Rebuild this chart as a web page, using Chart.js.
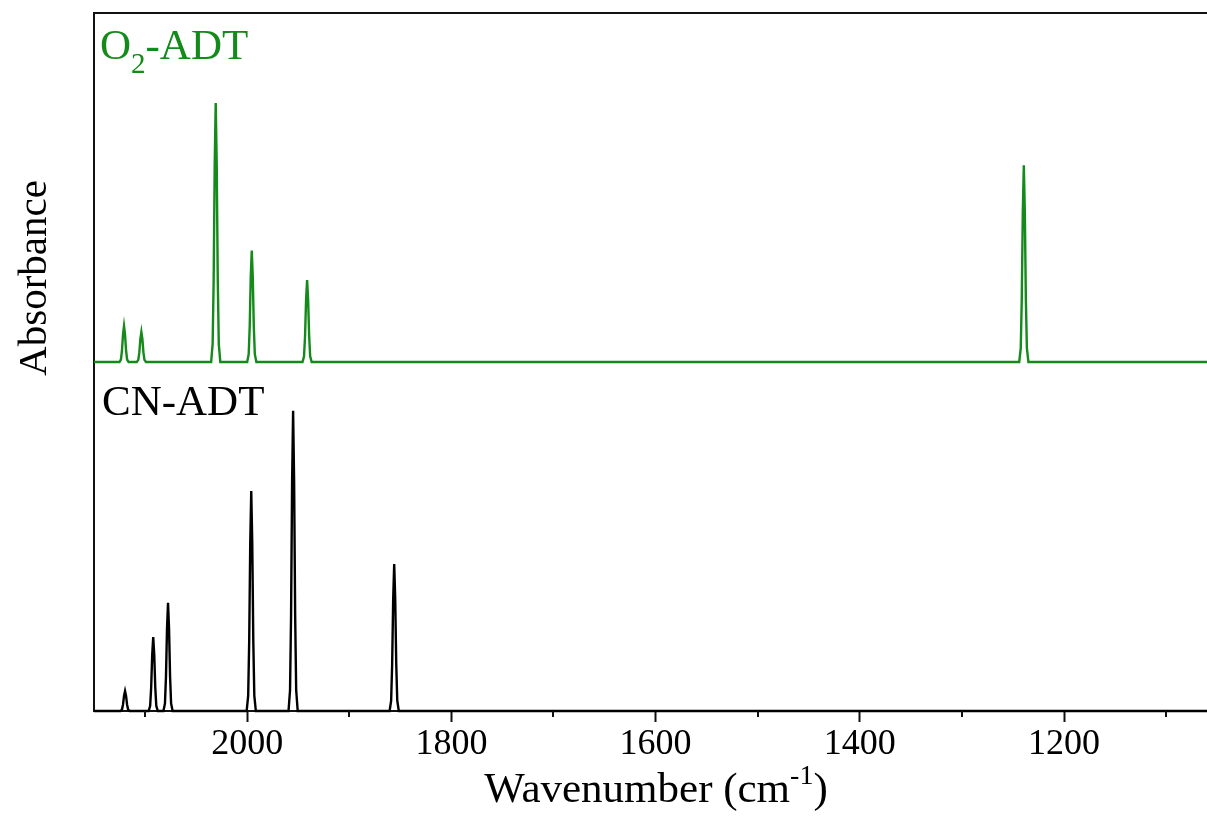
<!DOCTYPE html>
<html>
<head>
<meta charset="utf-8">
<script src="https://cdn.jsdelivr.net/npm/chart.js@4/dist/chart.umd.min.js"></script>
<style>
  html, body { margin: 0; padding: 0; background: #fff; }
  #wrap { width: 1207px; height: 828px; }
</style>
</head>
<body>
<div id="wrap"><canvas id="c" width="1207" height="828"></canvas></div>
<script>
// ---- data ----
const xRange = [2150, 1060];                      // wavenumber axis, reversed
const majorTicks = [2000, 1800, 1600, 1400, 1200];
const minorTicks = [2100, 1900, 1700, 1500, 1300, 1100];

const o2Peaks   = [2120.6, 2103.6, 2030.8, 1995.5, 1941.3, 1239.4];   // cm^-1
const o2Heights = [0.103, 0.086, 0.742, 0.319, 0.235, 0.564];         // relative absorbance

const cnPeaks   = [2119.6, 2092.0, 2077.5, 1996.0, 1955.0, 1856.0];
const cnHeights = [0.057, 0.212, 0.310, 0.630, 0.860, 0.421];

const labelO2 = ['O', '2', '-ADT'];
const labelCN = 'CN-ADT';
const yTitle = 'Absorbance';
const xTitle = ['Wavenumber (cm', '-1', ')'];

// narrow band shape used to draw each stick as a peak
const bandOffsets = [-4.5, -3, -2, -1, 0, 1, 2, 3, 4.5];
const bandShape   = [0, 0.07, 0.32, 0.76, 1, 0.76, 0.32, 0.07, 0];

function buildSpectrum(pos, hts) {
  const pts = [{x: xRange[1], y: 0}];
  const order = pos.map((p, i) => i).sort((a, b) => pos[a] - pos[b]);
  for (const i of order) {
    bandOffsets.forEach((o, k) => pts.push({x: pos[i] + o, y: hts[i] * bandShape[k]}));
  }
  pts.push({x: xRange[0], y: 0});
  return pts;
}

const FONT = "'Liberation Serif', 'Times New Roman', serif";
const GREEN = '#138a19';

const decor = {
  id: 'decor',
  afterDraw(chart) {
    const ctx = chart.ctx, a = chart.chartArea, xs = chart.scales.x;
    ctx.save();
    // top frame line
    ctx.strokeStyle = '#111';
    ctx.lineWidth = 2;
    ctx.beginPath();
    ctx.moveTo(a.left - 1, a.top);
    ctx.lineTo(a.right, a.top);
    ctx.stroke();
    // minor ticks
    for (const v of minorTicks) {
      const px = Math.round(xs.getPixelForValue(v));
      ctx.beginPath();
      ctx.moveTo(px, a.bottom);
      ctx.lineTo(px, a.bottom + 6);
      ctx.stroke();
    }
    // panel labels
    ctx.textAlign = 'left';
    ctx.textBaseline = 'alphabetic';
    ctx.fillStyle = GREEN;
    ctx.font = '43px ' + FONT;
    let x = a.left + 6;
    ctx.fillText(labelO2[0], x, a.top + 46);
    x += ctx.measureText(labelO2[0]).width;
    ctx.font = '29px ' + FONT;
    ctx.fillText(labelO2[1], x, a.top + 60);
    x += ctx.measureText(labelO2[1]).width;
    ctx.font = '43px ' + FONT;
    ctx.fillText(labelO2[2], x, a.top + 46);

    ctx.fillStyle = '#000';
    ctx.fillText(labelCN, a.left + 8, 415);

    // y title
    ctx.font = '41px ' + FONT;
    ctx.save();
    ctx.translate(46, 278);
    ctx.rotate(-Math.PI / 2);
    ctx.textAlign = 'center';
    ctx.fillText(yTitle, 0, 0);
    ctx.restore();

    // x title with superscript
    const big = '43px ' + FONT, small = '28px ' + FONT;
    ctx.font = big;  const w0 = ctx.measureText(xTitle[0]).width;
    const w2 = ctx.measureText(xTitle[2]).width;
    ctx.font = small; const w1 = ctx.measureText(xTitle[1]).width;
    let sx = 656 - (w0 + w1 + w2) / 2;
    const base = 802;
    ctx.font = big; ctx.fillText(xTitle[0], sx, base); sx += w0;
    ctx.font = small; ctx.fillText(xTitle[1], sx, base - 18); sx += w1;
    ctx.font = big; ctx.fillText(xTitle[2], sx, base);
    ctx.restore();
  }
};

new Chart(document.getElementById('c'), {
  type: 'line',
  data: {
    datasets: [
      {
        label: 'CN-ADT', data: buildSpectrum(cnPeaks, cnHeights),
        xAxisID: 'x', yAxisID: 'y', clip: 6,
        borderColor: '#000', borderWidth: 2.4, pointRadius: 0, tension: 0, fill: false
      },
      {
        label: 'O2-ADT', data: buildSpectrum(o2Peaks, o2Heights),
        xAxisID: 'x', yAxisID: 'y2', clip: 6,
        borderColor: GREEN, borderWidth: 2.4, pointRadius: 0, tension: 0, fill: false
      }
    ]
  },
  options: {
    responsive: false,
    animation: false,
    parsing: false,
    layout: { padding: { top: 13, right: 0, left: 0, bottom: 0 } },
    plugins: { legend: { display: false }, tooltip: { enabled: false } },
    scales: {
      x: {
        type: 'linear', reverse: true, min: xRange[1], max: xRange[0],
        afterBuildTicks(s) { s.ticks = majorTicks.map(v => ({value: v})); },
        afterFit(s) { s.height = 117; },
        grid: { drawOnChartArea: false, drawTicks: true, tickLength: 11, tickWidth: 2, tickColor: '#111' },
        border: { display: true, color: '#111', width: 2 },
        ticks: { color: '#000', font: { family: FONT, size: 36 }, padding: 1, maxRotation: 0,
                 callback: v => String(v) }
      },
      y: {
        type: 'linear', min: 0, max: 1, position: 'left', stack: 'panels', stackWeight: 1,
        afterFit(s) { s.width = 94; },
        grid: { display: false, drawTicks: false },
        border: { display: true, color: '#111', width: 2 },
        ticks: { display: false }
      },
      y2: {
        type: 'linear', min: 0, max: 1, position: 'left', stack: 'panels', stackWeight: 1,
        afterFit(s) { s.width = 94; },
        grid: { display: false, drawTicks: false },
        border: { display: true, color: '#111', width: 2 },
        ticks: { display: false }
      }
    }
  },
  plugins: [decor]
});
</script>
</body>
</html>
